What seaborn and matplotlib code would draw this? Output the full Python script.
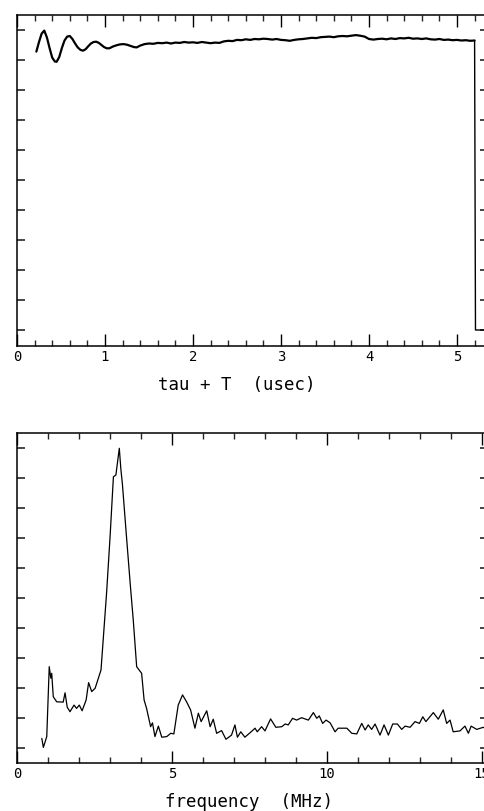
import matplotlib
matplotlib.use("Agg")
import matplotlib.pyplot as plt
import seaborn as sns
import pandas as pd
from matplotlib.ticker import MultipleLocator

# ---- data: top panel (time domain) ----
tau_t = [0.22, 0.25, 0.28, 0.31, 0.34, 0.37, 0.40, 0.43, 0.45, 0.48, 0.51, 0.54,
         0.57, 0.60, 0.63, 0.66, 0.69, 0.72, 0.75, 0.78, 0.81, 0.84, 0.87, 0.90,
         0.93, 0.96, 0.99, 1.02, 1.05, 1.09, 1.13, 1.17, 1.21, 1.25, 1.29, 1.33,
         1.36, 1.40, 1.45, 1.50, 1.55, 1.60, 1.65, 1.70, 1.75, 1.80, 1.85, 1.90,
         1.95, 2.00, 2.05, 2.10, 2.15, 2.20, 2.25, 2.30, 2.35, 2.40, 2.45, 2.50,
         2.55, 2.60, 2.65, 2.70, 2.75, 2.80, 2.85, 2.90, 2.95, 3.00, 3.05, 3.10,
         3.15, 3.20, 3.25, 3.30, 3.35, 3.40, 3.45, 3.50, 3.55, 3.60, 3.65, 3.70,
         3.75, 3.80, 3.85, 3.90, 3.95, 4.00, 4.05, 4.10, 4.15, 4.20, 4.25, 4.30,
         4.35, 4.40, 4.45, 4.50, 4.55, 4.60, 4.65, 4.70, 4.75, 4.80, 4.85, 4.90,
         4.95, 5.00, 5.05, 5.10, 5.15, 5.20, 5.21, 5.40]
signal = [9.28, 9.60, 9.88, 9.98, 9.75, 9.40, 9.08, 8.95, 8.94, 9.10, 9.40, 9.65,
          9.78, 9.80, 9.70, 9.55, 9.42, 9.34, 9.31, 9.36, 9.46, 9.55, 9.60, 9.61,
          9.57, 9.50, 9.43, 9.39, 9.39, 9.45, 9.49, 9.52, 9.53, 9.51, 9.47, 9.43,
          9.42, 9.48, 9.53, 9.55, 9.54, 9.57, 9.56, 9.58, 9.55, 9.58, 9.57, 9.60,
          9.58, 9.59, 9.57, 9.60, 9.58, 9.56, 9.58, 9.57, 9.62, 9.64, 9.63, 9.67,
          9.66, 9.69, 9.67, 9.70, 9.69, 9.71, 9.70, 9.68, 9.70, 9.67, 9.66, 9.64,
          9.67, 9.69, 9.70, 9.72, 9.74, 9.73, 9.76, 9.77, 9.78, 9.76, 9.79, 9.80,
          9.79, 9.81, 9.83, 9.81, 9.78, 9.70, 9.68, 9.70, 9.71, 9.69, 9.72, 9.70,
          9.73, 9.72, 9.74, 9.71, 9.72, 9.70, 9.72, 9.69, 9.68, 9.70, 9.67, 9.68,
          9.66, 9.67, 9.65, 9.66, 9.64, 9.65, 0.00, 0.00]

# ---- data: bottom panel (frequency domain) ----
freq = [0.80, 0.85, 0.96, 1.04, 1.09, 1.12, 1.17, 1.28, 1.49, 1.55, 1.62, 1.71,
        1.84, 1.92, 2.01, 2.10, 2.23, 2.31, 2.41, 2.52, 2.71, 2.78, 2.89, 3.00,
        3.11, 3.19, 3.30, 3.35, 3.40, 3.52, 3.65, 3.75, 3.86, 4.02, 4.10, 4.18,
        4.31, 4.37, 4.45, 4.56, 4.67, 4.83, 4.96, 5.06, 5.20, 5.34, 5.47, 5.60,
        5.74, 5.85, 5.94, 6.12, 6.23, 6.33, 6.44, 6.60, 6.74, 6.92, 7.03, 7.11,
        7.22, 7.35, 7.52, 7.68, 7.75, 7.89, 8.00, 8.18, 8.35, 8.54, 8.65, 8.75,
        8.89, 9.02, 9.18, 9.40, 9.56, 9.67, 9.75, 9.86, 9.97, 10.10, 10.26, 10.36,
        10.64, 10.80, 10.96, 11.12, 11.23, 11.33, 11.44, 11.55, 11.71, 11.84, 11.98, 12.12,
        12.27, 12.41, 12.52, 12.68, 12.84, 12.98, 13.09, 13.19, 13.43, 13.59, 13.75, 13.86,
        13.97, 14.07, 14.29, 14.45, 14.56, 14.65, 14.83, 15.04, 15.20]
spectrum = [0.32, 0.02, 0.38, 2.71, 2.33, 2.49, 1.71, 1.54, 1.53, 1.84, 1.36, 1.21,
            1.43, 1.32, 1.43, 1.24, 1.60, 2.18, 1.88, 1.99, 2.60, 3.60, 5.17, 7.00,
            9.04, 9.10, 9.99, 9.30, 8.80, 7.20, 5.50, 4.27, 2.71, 2.49, 1.60, 1.32,
            0.71, 0.84, 0.38, 0.73, 0.36, 0.38, 0.49, 0.47, 1.43, 1.77, 1.54, 1.27,
            0.66, 1.16, 0.88, 1.24, 0.71, 0.96, 0.49, 0.58, 0.29, 0.43, 0.77, 0.36,
            0.54, 0.36, 0.51, 0.66, 0.54, 0.71, 0.57, 0.97, 0.69, 0.71, 0.80, 0.77,
            0.99, 0.93, 1.01, 0.93, 1.18, 0.99, 1.07, 0.82, 0.93, 0.84, 0.54, 0.66,
            0.66, 0.49, 0.47, 0.82, 0.60, 0.77, 0.62, 0.80, 0.43, 0.77, 0.43, 0.80,
            0.80, 0.62, 0.73, 0.69, 0.88, 0.82, 1.04, 0.88, 1.18, 0.96, 1.27, 0.82,
            0.93, 0.54, 0.57, 0.73, 0.49, 0.73, 0.62, 0.69, 0.60]

top_xticks = [0, 1, 2, 3, 4, 5]
bot_xticks = [0, 5, 10, 15]
y_ticks = [0, 1, 2, 3, 4, 5, 6, 7, 8, 9, 10]

sns.set_style("ticks")
plt.rcParams['font.family'] = ['DejaVu Sans Mono', 'DejaVu Sans']

W, H = 484, 811
fig = plt.figure(figsize=(W / 100, H / 100), dpi=100)
fig.patch.set_facecolor("white")

def px_axes(left, top, right, bottom):
    return fig.add_axes([left / W, 1 - bottom / H, (right - left) / W, (bottom - top) / H])

ax1 = px_axes(17, 15, 488, 346)
ax2 = px_axes(17, 433, 488, 763)

df1 = pd.DataFrame({"t": tau_t, "s": signal})
df2 = pd.DataFrame({"f": freq, "a": spectrum})

# signal trace (thick) and its final drop to zero (thin), both from the same arrays
sns.lineplot(data=df1.iloc[:-2], x="t", y="s", ax=ax1, color="black", lw=1.6,
             estimator=None, sort=False)
sns.lineplot(data=df1.iloc[-3:], x="t", y="s", ax=ax1, color="black", lw=1.0,
             estimator=None, sort=False)
sns.lineplot(data=df2, x="f", y="a", ax=ax2, color="black", lw=0.9,
             estimator=None, sort=False)

ax1.set_xlim(0, 471 / 88)
ax1.set_ylim(-16 / 30, 10.5)
ax2.set_xlim(0, 471 / 31)
ax2.set_ylim(-0.5, 10.5)

ax1.set_xticks(top_xticks)
ax1.xaxis.set_minor_locator(MultipleLocator(0.2))
ax2.set_xticks(bot_xticks)
ax2.xaxis.set_minor_locator(MultipleLocator(1))

for ax in (ax1, ax2):
    ax.set_yticks(y_ticks)
    ax.set_yticklabels([])
    for s in ax.spines.values():
        s.set_visible(True)
        s.set_linewidth(1.1)
        s.set_color("black")
    ax.tick_params(axis="x", which="major", direction="in", length=8.5, width=1.0,
                   top=True, bottom=True, pad=3, labelsize=10, colors="black")
    ax.tick_params(axis="x", which="minor", direction="in", length=4.3, width=1.0,
                   top=True, bottom=True)
    ax.tick_params(axis="y", which="major", direction="in", length=5.5, width=1.2,
                   left=True, right=True)
    ax.set_facecolor("white")

ax1.set_xlabel("tau + T  (usec)", fontsize=12.5, color="black")
ax1.set_ylabel("")
ax1.xaxis.set_label_coords((237 - 17) / 471, -39 / 331)
ax1.xaxis.label.set_va("center")

ax2.set_xlabel("frequency  (MHz)", fontsize=12.5, color="black")
ax2.set_ylabel("")
ax2.xaxis.set_label_coords((249 - 17) / 471, -39 / 330)
ax2.xaxis.label.set_va("center")

fig.savefig("out.png", dpi=100)
